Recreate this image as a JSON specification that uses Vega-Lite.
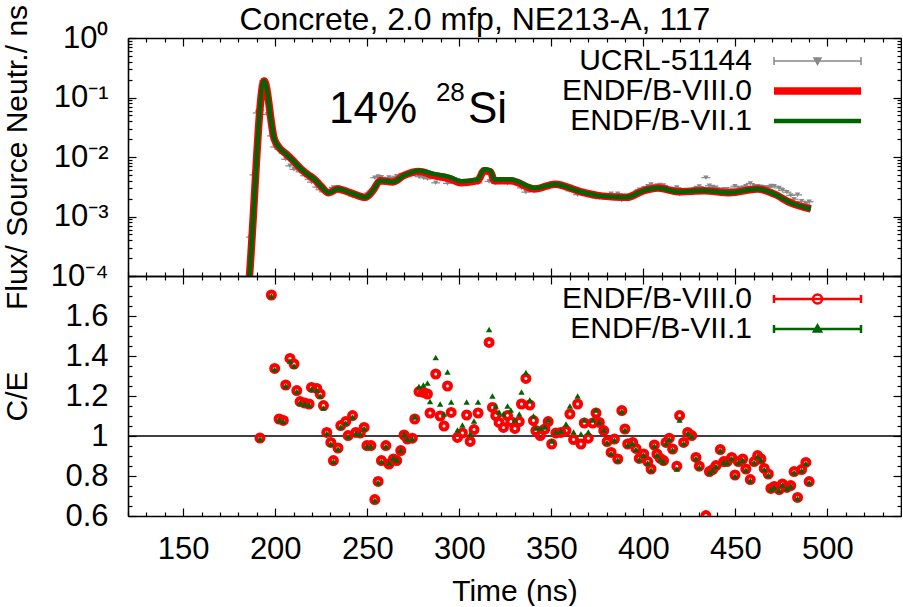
{
  "$schema": "https://vega.github.io/schema/vega-lite/v6.json",
  "padding": {"left": 2, "top": 3, "right": 0, "bottom": 0},
  "background": "white",
  "title": {"text": "Concrete, 2.0 mfp, NE213-A, 117", "font": "Liberation Sans", "fontSize": 32, "fontWeight": "normal", "color": "black", "anchor": "middle", "baseline": "alphabetic", "offset": -24.5, "dx": 23, "dy": 33},
  "spacing": 0,
  "bounds": "flush",
  "datasets": {
    "exp": [
      {"t":186.6,"v":0.00045},{"t":188.5,"v":0.005},{"t":190.3,"v":0.055},{"t":191.7,"v":0.0616},{"t":193.6,"v":0.19},{"t":195.8,"v":0.052},{"t":197.9,"v":0.0226},{"t":199.7,"v":0.0147},{"t":202.1,"v":0.0134},{"t":204.4,"v":0.0116},{"t":205.7,"v":0.00916},{"t":208.0,"v":0.0071},{"t":210.2,"v":0.0062},{"t":211.7,"v":0.00617},{"t":213.5,"v":0.00563},{"t":216.0,"v":0.00485},{"t":218.4,"v":0.00422},{"t":219.7,"v":0.00378},{"t":222.6,"v":0.00312},{"t":224.4,"v":0.00281},{"t":226.2,"v":0.0026},{"t":228.0,"v":0.00265},{"t":230.2,"v":0.00269},{"t":231.6,"v":0.00308},{"t":234.1,"v":0.00309},{"t":235.6,"v":0.00267},{"t":238.3,"v":0.00248},{"t":239.6,"v":0.00258},{"t":242.0,"v":0.00222},{"t":243.8,"v":0.00236},{"t":246.2,"v":0.00224},{"t":248.3,"v":0.00205},{"t":249.8,"v":0.00233},{"t":252.0,"v":0.00268},{"t":254.1,"v":0.00449},{"t":255.9,"v":0.00471},{"t":257.7,"v":0.00456},{"t":260.1,"v":0.0041},{"t":261.8,"v":0.00453},{"t":264.2,"v":0.00429},{"t":266.0,"v":0.00475},{"t":268.2,"v":0.00496},{"t":270.0,"v":0.00488},{"t":271.8,"v":0.00516},{"t":274.5,"v":0.00546},{"t":275.8,"v":0.00507},{"t":278.1,"v":0.00466},{"t":280.5,"v":0.00447},{"t":282.7,"v":0.0043},{"t":284.1,"v":0.00448},{"t":287.2,"v":0.00368},{"t":289.6,"v":0.00424},{"t":291.7,"v":0.0043},{"t":293.6,"v":0.0036},{"t":295.6,"v":0.00385},{"t":299.0,"v":0.00393},{"t":301.7,"v":0.00365},{"t":304.0,"v":0.00344},{"t":305.9,"v":0.00398},{"t":308.0,"v":0.00381},{"t":310.2,"v":0.00368},{"t":316.2,"v":0.00388},{"t":318.0,"v":0.0042},{"t":319.8,"v":0.00363},{"t":321.6,"v":0.00375},{"t":324.0,"v":0.00384},{"t":326.2,"v":0.00363},{"t":328.0,"v":0.00373},{"t":330.2,"v":0.00367},{"t":332.6,"v":0.00337},{"t":333.8,"v":0.00303},{"t":336.2,"v":0.00257},{"t":338.3,"v":0.00271},{"t":340.3,"v":0.00275},{"t":341.6,"v":0.00282},{"t":344.0,"v":0.00305},{"t":346.5,"v":0.00309},{"t":348.3,"v":0.00308},{"t":350.2,"v":0.00354},{"t":352.5,"v":0.00342},{"t":355.2,"v":0.00324},{"t":358.0,"v":0.00302},{"t":360.1,"v":0.0027},{"t":362.1,"v":0.00295},{"t":364.3,"v":0.00233},{"t":366.1,"v":0.00271},{"t":367.9,"v":0.00239},{"t":370.1,"v":0.00253},{"t":372.5,"v":0.00225},{"t":374.3,"v":0.00206},{"t":376.1,"v":0.00206},{"t":378.5,"v":0.00214},{"t":380.3,"v":0.00226},{"t":382.5,"v":0.0024},{"t":384.3,"v":0.00218},{"t":386.1,"v":0.00241},{"t":388.3,"v":0.00188},{"t":390.0,"v":0.00203},{"t":391.5,"v":0.00219},{"t":394.2,"v":0.00239},{"t":396.0,"v":0.00254},{"t":397.8,"v":0.00282},{"t":400.2,"v":0.00297},{"t":402.4,"v":0.00321},{"t":404.2,"v":0.00343},{"t":406.0,"v":0.00304},{"t":407.4,"v":0.0033},{"t":409.2,"v":0.00338},{"t":411.0,"v":0.00331},{"t":412.3,"v":0.00294},{"t":414.1,"v":0.00283},{"t":415.9,"v":0.00289},{"t":418.2,"v":0.00306},{"t":419.7,"v":0.00236},{"t":421.9,"v":0.00269},{"t":424.1,"v":0.00255},{"t":426.3,"v":0.0026},{"t":428.6,"v":0.00302},{"t":430.4,"v":0.00318},{"t":434.0,"v":0.00449},{"t":435.9,"v":0.00328},{"t":437.7,"v":0.00313},{"t":439.5,"v":0.00305},{"t":441.8,"v":0.00279},{"t":443.7,"v":0.00287},{"t":445.5,"v":0.00287},{"t":448.0,"v":0.0028},{"t":449.8,"v":0.00323},{"t":451.6,"v":0.00298},{"t":454.0,"v":0.00305},{"t":455.7,"v":0.00323},{"t":458.1,"v":0.00358},{"t":460.2,"v":0.00321},{"t":462.1,"v":0.00322},{"t":463.9,"v":0.00316},{"t":465.7,"v":0.0031},{"t":467.9,"v":0.00309},{"t":469.3,"v":0.00325},{"t":471.1,"v":0.00321},{"t":473.8,"v":0.00301},{"t":475.6,"v":0.00276},{"t":478.0,"v":0.00256},{"t":480.1,"v":0.00226},{"t":481.9,"v":0.00195},{"t":483.8,"v":0.00231},{"t":486.0,"v":0.0018},{"t":488.3,"v":0.00161},{"t":490.1,"v":0.00177}
    ],
    "calc8": [
      {"t":185,"v":0.00004},{"t":186,"v":0.0001},{"t":194,"v":0.19},{"t":199.5,"v":0.02},{"t":202,"v":0.0145},{"t":206,"v":0.0112},{"t":210,"v":0.0085},{"t":214,"v":0.0063},{"t":218,"v":0.005},{"t":221,"v":0.0043},{"t":225,"v":0.0032},{"t":229,"v":0.0025},{"t":234,"v":0.0029},{"t":241,"v":0.0025},{"t":249,"v":0.0021},{"t":253,"v":0.0027},{"t":257,"v":0.004},{"t":264,"v":0.0038},{"t":270,"v":0.0049},{"t":278,"v":0.0057},{"t":286,"v":0.0049},{"t":295,"v":0.0043},{"t":301,"v":0.0037},{"t":310,"v":0.004},{"t":313.5,"v":0.0059},{"t":317,"v":0.0056},{"t":319,"v":0.004},{"t":328,"v":0.004},{"t":341,"v":0.0029},{"t":352,"v":0.0035},{"t":366,"v":0.0026},{"t":378,"v":0.0022},{"t":391,"v":0.0021},{"t":400,"v":0.0027},{"t":408,"v":0.003},{"t":419,"v":0.0026},{"t":433,"v":0.0027},{"t":447,"v":0.0025},{"t":462,"v":0.0029},{"t":471,"v":0.0024},{"t":480,"v":0.0017},{"t":491,"v":0.00134}
    ],
    "calc7": [
      {"t":185,"v":0.00004},{"t":186,"v":0.0001},{"t":194,"v":0.19},{"t":199.5,"v":0.02},{"t":202,"v":0.0145},{"t":206,"v":0.0112},{"t":210,"v":0.0085},{"t":214,"v":0.0063},{"t":218,"v":0.005},{"t":221,"v":0.0043},{"t":225,"v":0.0032},{"t":229,"v":0.0025},{"t":234,"v":0.0029},{"t":241,"v":0.0025},{"t":249,"v":0.0021},{"t":253,"v":0.0027},{"t":257,"v":0.004},{"t":264,"v":0.0038},{"t":270,"v":0.0049},{"t":278,"v":0.0059},{"t":286,"v":0.0052},{"t":295,"v":0.0046},{"t":301,"v":0.0039},{"t":310,"v":0.0042},{"t":313.5,"v":0.0062},{"t":317,"v":0.0059},{"t":319,"v":0.0042},{"t":328,"v":0.0042},{"t":341,"v":0.003},{"t":352,"v":0.0035},{"t":366,"v":0.0026},{"t":378,"v":0.0022},{"t":391,"v":0.0021},{"t":400,"v":0.0027},{"t":408,"v":0.003},{"t":419,"v":0.0026},{"t":433,"v":0.0027},{"t":447,"v":0.0025},{"t":462,"v":0.0029},{"t":471,"v":0.0024},{"t":480,"v":0.0017},{"t":491,"v":0.00134}
    ],
    "ce8": [
      {"t":191.7,"ce":0.99},{"t":197.9,"ce":1.705},{"t":199.7,"ce":1.338},{"t":202.1,"ce":1.085},{"t":204.4,"ce":1.078},{"t":205.7,"ce":1.255},{"t":208.0,"ce":1.388},{"t":210.2,"ce":1.36},{"t":211.7,"ce":1.227},{"t":213.5,"ce":1.172},{"t":216.0,"ce":1.165},{"t":218.4,"ce":1.16},{"t":219.7,"ce":1.243},{"t":222.6,"ce":1.238},{"t":224.4,"ce":1.21},{"t":226.2,"ce":1.152},{"t":228.0,"ce":1.018},{"t":230.2,"ce":0.968},{"t":231.6,"ce":0.877},{"t":234.1,"ce":0.94},{"t":235.6,"ce":1.052},{"t":238.3,"ce":1.072},{"t":239.6,"ce":1.002},{"t":242.0,"ce":1.102},{"t":243.8,"ce":1.018},{"t":246.2,"ce":1.015},{"t":248.3,"ce":1.043},{"t":249.8,"ce":0.952},{"t":252.0,"ce":0.952},{"t":254.1,"ce":0.682},{"t":255.9,"ce":0.773},{"t":257.7,"ce":0.877},{"t":260.1,"ce":0.952},{"t":261.8,"ce":0.86},{"t":264.2,"ce":0.885},{"t":266.0,"ce":0.877},{"t":268.2,"ce":0.927},{"t":270.0,"ce":1.005},{"t":271.8,"ce":0.985},{"t":274.5,"ce":0.989},{"t":275.8,"ce":1.085},{"t":278.1,"ce":1.222},{"t":280.5,"ce":1.218},{"t":282.7,"ce":1.21},{"t":284.1,"ce":1.115},{"t":287.2,"ce":1.31},{"t":289.6,"ce":1.1},{"t":291.7,"ce":1.05},{"t":293.6,"ce":1.25},{"t":295.6,"ce":1.118},{"t":299.0,"ce":0.993},{"t":301.7,"ce":1.015},{"t":304.0,"ce":1.105},{"t":305.9,"ce":0.973},{"t":308.0,"ce":1.032},{"t":310.2,"ce":1.115},{"t":316.2,"ce":1.468},{"t":318.0,"ce":1.143},{"t":319.8,"ce":1.102},{"t":321.6,"ce":1.068},{"t":324.0,"ce":1.043},{"t":326.2,"ce":1.102},{"t":328.0,"ce":1.072},{"t":330.2,"ce":1.038},{"t":332.6,"ce":1.072},{"t":333.8,"ce":1.16},{"t":336.2,"ce":1.288},{"t":338.3,"ce":1.155},{"t":340.3,"ce":1.077},{"t":341.6,"ce":1.027},{"t":344.0,"ce":1.002},{"t":346.5,"ce":1.035},{"t":348.3,"ce":1.072},{"t":350.2,"ce":0.96},{"t":352.5,"ce":1.015},{"t":355.2,"ce":1.018},{"t":358.0,"ce":1.027},{"t":360.1,"ce":1.11},{"t":362.1,"ce":0.982},{"t":364.3,"ce":1.16},{"t":366.1,"ce":0.96},{"t":367.9,"ce":1.065},{"t":370.1,"ce":0.989},{"t":372.5,"ce":1.065},{"t":374.3,"ce":1.115},{"t":376.1,"ce":1.068},{"t":378.5,"ce":1.027},{"t":380.3,"ce":0.972},{"t":382.5,"ce":0.918},{"t":384.3,"ce":0.985},{"t":386.1,"ce":0.885},{"t":388.3,"ce":1.127},{"t":390.0,"ce":1.035},{"t":391.5,"ce":0.96},{"t":394.2,"ce":0.968},{"t":396.0,"ce":0.938},{"t":397.8,"ce":0.888},{"t":400.2,"ce":0.91},{"t":402.4,"ce":0.872},{"t":404.2,"ce":0.835},{"t":406.0,"ce":0.955},{"t":407.4,"ce":0.91},{"t":409.2,"ce":0.888},{"t":411.0,"ce":0.877},{"t":412.3,"ce":0.968},{"t":414.1,"ce":0.989},{"t":415.9,"ce":0.935},{"t":418.2,"ce":0.849},{"t":419.7,"ce":1.102},{"t":421.9,"ce":0.968},{"t":424.1,"ce":1.018},{"t":426.3,"ce":1.002},{"t":428.6,"ce":0.893},{"t":430.4,"ce":0.849},{"t":434.0,"ce":0.602},{"t":435.9,"ce":0.822},{"t":437.7,"ce":0.832},{"t":439.5,"ce":0.852},{"t":441.8,"ce":0.932},{"t":443.7,"ce":0.872},{"t":445.5,"ce":0.872},{"t":448.0,"ce":0.893},{"t":449.8,"ce":0.805},{"t":451.6,"ce":0.872},{"t":454.0,"ce":0.885},{"t":455.7,"ce":0.835},{"t":458.1,"ce":0.782},{"t":460.2,"ce":0.872},{"t":462.1,"ce":0.902},{"t":463.9,"ce":0.885},{"t":465.7,"ce":0.838},{"t":467.9,"ce":0.81},{"t":469.3,"ce":0.738},{"t":471.1,"ce":0.748},{"t":473.8,"ce":0.732},{"t":475.6,"ce":0.76},{"t":478.0,"ce":0.743},{"t":480.1,"ce":0.752},{"t":481.9,"ce":0.822},{"t":483.8,"ce":0.693},{"t":486.0,"ce":0.832},{"t":488.3,"ce":0.868},{"t":490.1,"ce":0.772}
    ],
    "ce7": [
      {"t":191.7,"ce":0.985},{"t":197.9,"ce":1.7},{"t":199.7,"ce":1.333},{"t":202.1,"ce":1.08},{"t":204.4,"ce":1.073},{"t":205.7,"ce":1.25},{"t":208.0,"ce":1.375},{"t":210.2,"ce":1.35},{"t":211.7,"ce":1.222},{"t":213.5,"ce":1.165},{"t":216.0,"ce":1.16},{"t":218.4,"ce":1.155},{"t":219.7,"ce":1.235},{"t":222.6,"ce":1.23},{"t":224.4,"ce":1.2},{"t":226.2,"ce":1.14},{"t":228.0,"ce":1.013},{"t":230.2,"ce":0.96},{"t":231.6,"ce":0.872},{"t":234.1,"ce":0.935},{"t":235.6,"ce":1.045},{"t":238.3,"ce":1.065},{"t":239.6,"ce":0.997},{"t":242.0,"ce":1.095},{"t":243.8,"ce":1.012},{"t":246.2,"ce":1.01},{"t":248.3,"ce":1.038},{"t":249.8,"ce":0.947},{"t":252.0,"ce":0.947},{"t":254.1,"ce":0.677},{"t":255.9,"ce":0.768},{"t":257.7,"ce":0.872},{"t":260.1,"ce":0.947},{"t":261.8,"ce":0.865},{"t":264.2,"ce":0.89},{"t":266.0,"ce":0.88},{"t":268.2,"ce":0.93},{"t":270.0,"ce":1.008},{"t":271.8,"ce":0.985},{"t":274.5,"ce":0.985},{"t":275.8,"ce":1.095},{"t":278.1,"ce":1.248},{"t":280.5,"ce":1.255},{"t":282.7,"ce":1.265},{"t":284.1,"ce":1.172},{"t":287.2,"ce":1.392},{"t":289.6,"ce":1.16},{"t":291.7,"ce":1.11},{"t":293.6,"ce":1.32},{"t":295.6,"ce":1.17},{"t":299.0,"ce":1.03},{"t":301.7,"ce":1.055},{"t":304.0,"ce":1.17},{"t":305.9,"ce":1.01},{"t":308.0,"ce":1.075},{"t":310.2,"ce":1.17},{"t":316.2,"ce":1.532},{"t":318.0,"ce":1.2},{"t":319.8,"ce":1.15},{"t":321.6,"ce":1.12},{"t":324.0,"ce":1.11},{"t":326.2,"ce":1.15},{"t":328.0,"ce":1.13},{"t":330.2,"ce":1.08},{"t":332.6,"ce":1.11},{"t":333.8,"ce":1.22},{"t":336.2,"ce":1.318},{"t":338.3,"ce":1.18},{"t":340.3,"ce":1.1},{"t":341.6,"ce":1.04},{"t":344.0,"ce":1.04},{"t":346.5,"ce":1.045},{"t":348.3,"ce":1.08},{"t":350.2,"ce":0.975},{"t":352.5,"ce":1.02},{"t":355.2,"ce":1.025},{"t":358.0,"ce":1.06},{"t":360.1,"ce":1.15},{"t":362.1,"ce":1.02},{"t":364.3,"ce":1.2},{"t":366.1,"ce":1.01},{"t":367.9,"ce":1.08},{"t":370.1,"ce":1.02},{"t":372.5,"ce":1.08},{"t":374.3,"ce":1.13},{"t":376.1,"ce":1.07},{"t":378.5,"ce":1.03},{"t":380.3,"ce":0.967},{"t":382.5,"ce":0.913},{"t":384.3,"ce":0.98},{"t":386.1,"ce":0.88},{"t":388.3,"ce":1.122},{"t":390.0,"ce":1.03},{"t":391.5,"ce":0.955},{"t":394.2,"ce":0.963},{"t":396.0,"ce":0.933},{"t":397.8,"ce":0.883},{"t":400.2,"ce":0.905},{"t":402.4,"ce":0.865},{"t":404.2,"ce":0.83},{"t":406.0,"ce":0.95},{"t":407.4,"ce":0.905},{"t":409.2,"ce":0.883},{"t":411.0,"ce":0.87},{"t":412.3,"ce":0.963},{"t":414.1,"ce":0.984},{"t":415.9,"ce":0.93},{"t":418.2,"ce":0.835},{"t":419.7,"ce":1.08},{"t":421.9,"ce":0.963},{"t":424.1,"ce":1.013},{"t":426.3,"ce":0.997},{"t":428.6,"ce":0.888},{"t":430.4,"ce":0.844},{"t":434.0,"ce":0.59},{"t":435.9,"ce":0.817},{"t":437.7,"ce":0.827},{"t":439.5,"ce":0.847},{"t":441.8,"ce":0.927},{"t":443.7,"ce":0.867},{"t":445.5,"ce":0.867},{"t":448.0,"ce":0.888},{"t":449.8,"ce":0.8},{"t":451.6,"ce":0.867},{"t":454.0,"ce":0.88},{"t":455.7,"ce":0.83},{"t":458.1,"ce":0.777},{"t":460.2,"ce":0.867},{"t":462.1,"ce":0.897},{"t":463.9,"ce":0.88},{"t":465.7,"ce":0.833},{"t":467.9,"ce":0.805},{"t":469.3,"ce":0.733},{"t":471.1,"ce":0.743},{"t":473.8,"ce":0.727},{"t":475.6,"ce":0.755},{"t":478.0,"ce":0.738},{"t":480.1,"ce":0.747},{"t":481.9,"ce":0.817},{"t":483.8,"ce":0.688},{"t":486.0,"ce":0.827},{"t":488.3,"ce":0.863},{"t":490.1,"ce":0.767}
    ]
  },
  "vconcat": [
    {
      "width": 773,
      "height": 238,
      "resolve": {"axis": {"x": "independent", "y": "independent"}, "scale": {"color": "independent"}, "legend": {"color": "independent"}},
      "layer": [
        {
          "data": {"name": "exp"},
          "mark": {"type": "tick", "orient": "horizontal", "size": 9, "thickness": 1.2, "color": "#888888", "opacity": 1, "clip": true},
          "encoding": {
            "x": {"field": "t", "type": "quantitative", "scale": {"domain": [120, 540], "nice": false, "zero": false}, "axis": null},
            "y": {"field": "v", "type": "quantitative", "scale": {"type": "log", "domain": [0.0001, 1], "nice": false}, "axis": null}
          }
        },
        {
          "data": {"name": "exp"},
          "mark": {"type": "point", "shape": "triangle-down", "filled": true, "size": 28, "opacity": 1, "clip": true},
          "encoding": {
            "x": {"field": "t", "type": "quantitative", "scale": {"domain": [120, 540], "nice": false, "zero": false},
              "axis": {"orient": "bottom", "values": [120,130,140,150,160,170,180,190,200,210,220,230,240,250,260,270,280,290,300,310,320,330,340,350,360,370,380,390,400,410,420,430,440,450,460,470,480,490,500,510,520,530,540], "labels": false, "title": null,
                "tickSize": {"condition": {"test": "datum.value % 50 == 0", "value": -8}, "value": -4}}},
            "y": {"field": "v", "type": "quantitative", "scale": {"type": "log", "domain": [0.0001, 1], "nice": false},
              "axis": {"orient": "left", "values": [0.0001,0.0002,0.0003,0.0004,0.0005,0.0006,0.0007,0.0008,0.0009,0.001,0.002,0.003,0.004,0.005,0.006,0.007,0.008,0.009,0.01,0.02,0.03,0.04,0.05,0.06,0.07,0.08,0.09,0.1,0.2,0.3,0.4,0.5,0.6,0.7,0.8,0.9,1],
                "labelExpr": "datum.value == 1 ? '10⁰' : datum.value == 0.1 ? '10⁻¹' : datum.value == 0.01 ? '10⁻²' : datum.value == 0.001 ? '10⁻³' : datum.value == 0.0001 ? '10⁻⁴' : ''",
                "tickSize": {"condition": {"test": "datum.value == 1 || datum.value == 0.1 || datum.value == 0.01 || datum.value == 0.001 || datum.value == 0.0001", "value": -8}, "value": -4},
                "labelPadding": 28, "title": "Flux/ Source Neutr./ ns", "titlePadding": 18}},
            "color": {"datum": "UCRL-51144", "type": "nominal",
              "scale": {"domain": ["UCRL-51144"], "range": ["#888888"]},
              "legend": {
                "orient": "none", "legendX": 674.5, "legendY": 8, "title": null, "padding": 0,
                "labelFont": "Liberation Sans", "labelFontSize": 30, "labelColor": "black", "labelAlign": "right", "labelOffset": -80.5, "labelLimit": 400,
                "symbolType": "M-8.7,0H8.7M-8.7,-0.8V0.8M8.7,-0.8V0.8M-0.7,-0.6L0.7,-0.6L0,0.7Z", "symbolSize": 100, "symbolStrokeWidth": 1.5,
                "symbolStrokeColor": "#888888", "symbolFillColor": "#888888", "symbolOpacity": 1
              }}
          }
        },
        {
          "data": {"name": "calc8"},
          "mark": {"type": "line", "strokeWidth": 7.5, "clip": true, "interpolate": "monotone"},
          "encoding": {
            "x": {"field": "t", "type": "quantitative", "scale": {"domain": [120, 540], "nice": false, "zero": false},
              "axis": {"orient": "top", "values": [120,130,140,150,160,170,180,190,200,210,220,230,240,250,260,270,280,290,300,310,320,330,340,350,360,370,380,390,400,410,420,430,440,450,460,470,480,490,500,510,520,530,540], "labels": false, "title": null,
                "tickSize": {"condition": {"test": "datum.value % 50 == 0", "value": -8}, "value": -4}}},
            "y": {"field": "v", "type": "quantitative", "scale": {"type": "log", "domain": [0.0001, 1], "nice": false},
              "axis": {"orient": "right", "values": [0.0001,0.0002,0.0003,0.0004,0.0005,0.0006,0.0007,0.0008,0.0009,0.001,0.002,0.003,0.004,0.005,0.006,0.007,0.008,0.009,0.01,0.02,0.03,0.04,0.05,0.06,0.07,0.08,0.09,0.1,0.2,0.3,0.4,0.5,0.6,0.7,0.8,0.9,1], "labels": false, "title": null,
                "tickSize": {"condition": {"test": "datum.value == 1 || datum.value == 0.1 || datum.value == 0.01 || datum.value == 0.001 || datum.value == 0.0001", "value": -8}, "value": -4}}},
            "color": {"datum": "ENDF/B-VIII.0", "type": "nominal",
              "scale": {"domain": ["ENDF/B-VIII.0"], "range": ["#ff0000"]},
              "legend": {
                "orient": "none", "legendX": 674.5, "legendY": 38, "title": null, "padding": 0,
                "labelFont": "Liberation Sans", "labelFontSize": 30, "labelColor": "black", "labelAlign": "right", "labelOffset": -80.5, "labelLimit": 400,
                "symbolType": "M-8.7,0H8.7", "symbolSize": 100, "symbolStrokeWidth": 7.5, "symbolOpacity": 1
              }}
          }
        },
        {
          "data": {"name": "calc7"},
          "mark": {"type": "line", "strokeWidth": 4.5, "clip": true, "interpolate": "monotone"},
          "encoding": {
            "x": {"field": "t", "type": "quantitative", "scale": {"domain": [120, 540], "nice": false, "zero": false}, "axis": null},
            "y": {"field": "v", "type": "quantitative", "scale": {"type": "log", "domain": [0.0001, 1], "nice": false}, "axis": null},
            "color": {"datum": "ENDF/B-VII.1", "type": "nominal",
              "scale": {"domain": ["ENDF/B-VII.1"], "range": ["#006400"]},
              "legend": {
                "orient": "none", "legendX": 674.5, "legendY": 68, "title": null, "padding": 0,
                "labelFont": "Liberation Sans", "labelFontSize": 30, "labelColor": "black", "labelAlign": "right", "labelOffset": -80.5, "labelLimit": 400,
                "symbolType": "M-8.7,0H8.7", "symbolSize": 100, "symbolStrokeWidth": 4.5, "symbolOpacity": 1
              }}
          }
        },
        {
          "data": {"values": [{}]},
          "mark": {"type": "text", "text": "14%", "font": "Liberation Sans", "fontSize": 44, "align": "left", "baseline": "alphabetic", "color": "black"},
          "encoding": {
            "x": {"datum": 229.2, "type": "quantitative", "axis": null},
            "y": {"datum": 0.0373, "type": "quantitative", "axis": null}
          }
        },
        {
          "data": {"values": [{}]},
          "mark": {"type": "text", "text": "28", "font": "Liberation Sans", "fontSize": 26, "align": "left", "baseline": "alphabetic", "color": "black"},
          "encoding": {
            "x": {"datum": 287.3, "type": "quantitative", "axis": null},
            "y": {"datum": 0.0873, "type": "quantitative", "axis": null}
          }
        },
        {
          "data": {"values": [{}]},
          "mark": {"type": "text", "text": "Si", "font": "Liberation Sans", "fontSize": 44, "align": "left", "baseline": "alphabetic", "color": "black"},
          "encoding": {
            "x": {"datum": 304.7, "type": "quantitative", "axis": null},
            "y": {"datum": 0.0373, "type": "quantitative", "axis": null}
          }
        }
      ]
    },
    {
      "width": 773,
      "height": 240,
      "resolve": {"axis": {"x": "independent", "y": "independent"}, "scale": {"color": "independent"}, "legend": {"color": "independent"}},
      "layer": [
        {
          "data": {"values": [{}]},
          "mark": {"type": "rule", "color": "black", "strokeWidth": 1.3},
          "encoding": {
            "y": {"datum": 1, "type": "quantitative", "scale": {"domain": [0.6, 1.8], "nice": false, "zero": false}, "axis": null}
          }
        },
        {
          "data": {"name": "ce8"},
          "mark": {"type": "point", "shape": "circle", "filled": false, "size": 49, "strokeWidth": 4, "opacity": 1, "clip": true},
          "encoding": {
            "x": {"field": "t", "type": "quantitative", "scale": {"domain": [120, 540], "nice": false, "zero": false},
              "axis": {"orient": "bottom", "values": [120,130,140,150,160,170,180,190,200,210,220,230,240,250,260,270,280,290,300,310,320,330,340,350,360,370,380,390,400,410,420,430,440,450,460,470,480,490,500,510,520,530,540],
                "labelExpr": "datum.value % 50 == 0 && datum.value >= 150 && datum.value <= 500 ? format(datum.value, 'd') : ''",
                "tickSize": {"condition": {"test": "datum.value % 50 == 0", "value": -8}, "value": -4},
                "labelPadding": 26, "title": "Time (ns)", "titlePadding": 8}},
            "y": {"field": "ce", "type": "quantitative", "scale": {"domain": [0.6, 1.8], "nice": false, "zero": false},
              "axis": {"orient": "left", "values": [0.6,0.65,0.7,0.75,0.8,0.85,0.9,0.95,1,1.05,1.1,1.15,1.2,1.25,1.3,1.35,1.4,1.45,1.5,1.55,1.6,1.65,1.7,1.75,1.8],
                "labelExpr": "abs(datum.value*5 - round(datum.value*5)) < 0.001 && datum.value < 1.7 ? format(datum.value, '.1~f') : ''",
                "tickSize": {"condition": {"test": "abs(datum.value*5 - round(datum.value*5)) < 0.001", "value": -8}, "value": -4},
                "labelPadding": 28, "title": "C/E", "titlePadding": 32}},
            "color": {"datum": "ENDF/B-VIII.0", "type": "nominal",
              "scale": {"domain": ["ENDF/B-VIII.0"], "range": ["#ff0000"]},
              "legend": {
                "orient": "none", "legendX": 674.5, "legendY": 8, "title": null, "padding": 0,
                "labelFont": "Liberation Sans", "labelFontSize": 30, "labelColor": "black", "labelAlign": "right", "labelOffset": -80.5, "labelLimit": 400,
                "symbolType": "M-8.7,0H8.7M-8.7,-0.8V0.8M8.7,-0.8V0.8M0.9,0A0.9,0.9,0,1,1,-0.9,0A0.9,0.9,0,1,1,0.9,0", "symbolSize": 100, "symbolStrokeWidth": 2.5, "symbolOpacity": 1
              }}
          }
        },
        {
          "data": {"name": "ce7"},
          "mark": {"type": "point", "shape": "triangle-up", "filled": true, "size": 40, "opacity": 1, "clip": true},
          "encoding": {
            "x": {"field": "t", "type": "quantitative", "scale": {"domain": [120, 540], "nice": false, "zero": false},
              "axis": {"orient": "top", "values": [120,130,140,150,160,170,180,190,200,210,220,230,240,250,260,270,280,290,300,310,320,330,340,350,360,370,380,390,400,410,420,430,440,450,460,470,480,490,500,510,520,530,540], "labels": false, "title": null,
                "tickSize": {"condition": {"test": "datum.value % 50 == 0", "value": -8}, "value": -4}}},
            "y": {"field": "ce", "type": "quantitative", "scale": {"domain": [0.6, 1.8], "nice": false, "zero": false},
              "axis": {"orient": "right", "values": [0.6,0.65,0.7,0.75,0.8,0.85,0.9,0.95,1,1.05,1.1,1.15,1.2,1.25,1.3,1.35,1.4,1.45,1.5,1.55,1.6,1.65,1.7,1.75,1.8], "labels": false, "title": null,
                "tickSize": {"condition": {"test": "abs(datum.value*5 - round(datum.value*5)) < 0.001", "value": -8}, "value": -4}}},
            "color": {"datum": "ENDF/B-VII.1", "type": "nominal",
              "scale": {"domain": ["ENDF/B-VII.1"], "range": ["#006400"]},
              "legend": {
                "orient": "none", "legendX": 674.5, "legendY": 38, "title": null, "padding": 0,
                "labelFont": "Liberation Sans", "labelFontSize": 30, "labelColor": "black", "labelAlign": "right", "labelOffset": -80.5, "labelLimit": 400,
                "symbolType": "M-8.7,0H8.7M-8.7,-0.8V0.8M8.7,-0.8V0.8M-0.7,0.5L0.7,0.5L0,-0.7Z", "symbolSize": 100, "symbolStrokeWidth": 2.5,
                "symbolStrokeColor": "#006400", "symbolOpacity": 1
              }}
          }
        }
      ]
    }
  ],
  "resolve": {"scale": {"color": "independent"}, "legend": {"color": "independent"}},
  "config": {
    "view": {"stroke": null},
    "font": "Liberation Sans",
    "axis": {
      "labelFont": "Liberation Sans", "labelFontSize": 31, "labelColor": "black",
      "titleFont": "Liberation Sans", "titleFontSize": 30, "titleFontWeight": "normal", "titleColor": "black",
      "domainColor": "black", "domainWidth": 1.6, "tickColor": "black", "tickWidth": 1.2,
      "grid": false, "labelFlush": false, "labelOverlap": false, "labelBound": false
    }
  }
}
